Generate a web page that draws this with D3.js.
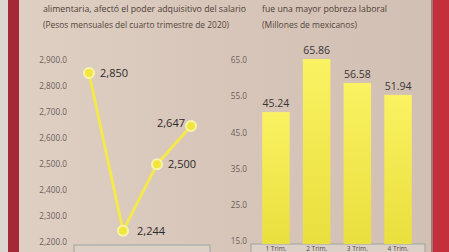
<!DOCTYPE html>
<html>
<head>
<meta charset="utf-8">
<script src="https://cdn.jsdelivr.net/npm/d3@7"></script>
<style>
  body { margin: 0; background: #d6c4b8; }
  svg { display: block; font-family: "Open Sans", sans-serif; }
</style>
</head>
<body>
<script>
// data
var quarters = ["1 Trim.", "2 Trim.", "3 Trim.", "4 Trim."];
var salario = [2850, 2244, 2500, 2647];
var pobreza = [45.24, 65.86, 56.58, 51.94];
var salarioTicks = [2200, 2300, 2400, 2500, 2600, 2700, 2800, 2900];
var pobrezaTicks = [15, 25, 35, 45, 55, 65];
var titleLeft = "alimentaria, afectó el poder adquisitivo del salario";
var subLeft = "(Pesos mensuales del cuarto trimestre de 2020)";
var titleRight = "fue una mayor pobreza laboral";
var subRight = "(Millones de mexicanos)";

var width = 449, height = 252;

var svg = d3.select("body").append("svg")
  .attr("width", width)
  .attr("height", height);

var defs = svg.append("defs");
var bg = defs.append("linearGradient").attr("id", "bg").attr("x1", 0).attr("x2", 1).attr("y1", 0).attr("y2", 0);
bg.append("stop").attr("offset", "0%").attr("stop-color", "#e0d0c4");
bg.append("stop").attr("offset", "45%").attr("stop-color", "#d8c6ba");
bg.append("stop").attr("offset", "100%").attr("stop-color", "#d2bfb3");
var barGrad = defs.append("linearGradient").attr("id", "barg").attr("x1", 0).attr("x2", 0).attr("y1", 0).attr("y2", 1);
barGrad.append("stop").attr("offset", "0%").attr("stop-color", "#faf262");
barGrad.append("stop").attr("offset", "100%").attr("stop-color", "#e9df3e");

// page background, edge strips
svg.append("rect").attr("width", width).attr("height", height).attr("fill", "url(#bg)");
svg.append("rect").attr("x", 0).attr("width", 8).attr("height", height).attr("fill", "#dcd6d1");
svg.append("rect").attr("x", 8).attr("width", 11).attr("height", height).attr("fill", "#a52838");
svg.append("rect").attr("x", 431).attr("width", 2).attr("height", height).attr("fill", "#9c7c72");
svg.append("rect").attr("x", 433).attr("width", 16).attr("height", height).attr("fill", "#c3303b");

// titles (widths squeezed to the printed ones)
function titles(x, t, tw, s, sw) {
  svg.append("text").attr("x", x).attr("y", 11.5)
    .attr("font-size", 9.4).attr("font-weight", 500).attr("fill", "#4e4036")
    .attr("textLength", tw).attr("lengthAdjust", "spacingAndGlyphs")
    .text(t);
  svg.append("text").attr("x", x).attr("y", 28)
    .attr("font-size", 8.8).attr("fill", "#54463c")
    .attr("textLength", sw).attr("lengthAdjust", "spacingAndGlyphs")
    .text(s);
}
titles(43, titleLeft, 203, subLeft, 186);
titles(262, titleRight, 125, subRight, 95);

// ---------- left: line chart ----------
var xL = d3.scalePoint().domain(quarters).range([89, 191]);
var yL = d3.scaleLinear().domain([2200, 2900]).range([242.3, 60]);

var axL = svg.append("g")
  .attr("transform", "translate(67,0)")
  .call(d3.axisLeft(yL).tickValues(salarioTicks).tickFormat(d3.format(",.1f")).tickSize(0).tickPadding(0));
axL.select(".domain").remove();
axL.selectAll("text").attr("font-size", 8.2).attr("fill", "#6a605a").attr("font-family", "Open Sans, sans-serif");

// x axis boxes (cut at bottom)
svg.append("rect").attr("x", 74).attr("y", 245).attr("width", 136).attr("height", 20)
  .attr("fill", "#ddd0c6").attr("stroke", "#9ea3a2").attr("stroke-width", 1);
svg.append("rect").attr("x", 251).attr("y", 244).attr("width", 174).attr("height", 20)
  .attr("fill", "#ddd0c6").attr("stroke", "#9ea3a2").attr("stroke-width", 1);

var line = d3.line()
  .x(function(d, i) { return xL(quarters[i]); })
  .y(function(d) { return yL(d); });

svg.append("path").datum(salario)
  .attr("d", line)
  .attr("fill", "none")
  .attr("stroke", "#f4e94c")
  .attr("stroke-width", 3);

svg.selectAll(".pt").data(salario).enter().append("circle")
  .attr("class", "pt")
  .attr("cx", function(d, i) { return xL(quarters[i]); })
  .attr("cy", function(d) { return yL(d); })
  .attr("r", 5)
  .attr("fill", "#f1e63e")
  .attr("stroke", "#f8f3a8")
  .attr("stroke-width", 2);

svg.selectAll(".ptlab").data(salario).enter().append("text")
  .attr("class", "ptlab")
  .attr("x", function(d, i) { return xL(quarters[i]) + (i == 3 ? -6 : (i == 1 ? 14 : 11)); })
  .attr("y", function(d, i) { return yL(d) + (i == 3 ? 1 : 4); })
  .attr("text-anchor", function(d, i) { return i == 3 ? "end" : "start"; })
  .attr("font-size", 11)
  .attr("fill", "#2e2a28")
  .text(function(d) { return d3.format(",")(d); });

// ---------- right: bar chart ----------
var xR = d3.scaleBand().domain(quarters).range([255.6, 418.4]).paddingInner(0.325).paddingOuter(0.1625);
// axis labels as printed
var yR = d3.scaleLinear().domain([15, 65]).range([241, 60]);
// bar heights as printed (not on the axis above)
var yBar = d3.scaleLinear().domain([-6, 66]).range([244, 58.7]);

var axR = svg.append("g")
  .attr("transform", "translate(247,0)")
  .call(d3.axisLeft(yR).tickValues(pobrezaTicks).tickFormat(d3.format(".1f")).tickSize(0).tickPadding(0));
axR.select(".domain").remove();
axR.selectAll("text").attr("font-size", 8.2).attr("fill", "#6a605a").attr("font-family", "Open Sans, sans-serif");

svg.selectAll(".bar").data(pobreza).enter().append("rect")
  .attr("class", "bar")
  .attr("x", function(d, i) { return xR(quarters[i]); })
  .attr("y", function(d) { return yBar(d); })
  .attr("width", xR.bandwidth())
  .attr("height", function(d) { return yBar(-6) - yBar(d); })
  .attr("fill", "url(#barg)");

svg.selectAll(".barlab").data(pobreza).enter().append("text")
  .attr("class", "barlab")
  .attr("x", function(d, i) { return xR(quarters[i]) + xR.bandwidth() / 2; })
  .attr("y", function(d) { return yBar(d) - 5; })
  .attr("text-anchor", "middle")
  .attr("font-size", 10.5)
  .attr("fill", "#3a3634")
  .text(function(d) { return d3.format(".2f")(d); });

// quarter labels inside the box
svg.selectAll(".qlab").data(quarters).enter().append("text")
  .attr("class", "qlab")
  .attr("x", function(d) { return xR(d) + xR.bandwidth() / 2; })
  .attr("y", 251)
  .attr("text-anchor", "middle")
  .attr("font-size", 6.5)
  .attr("fill", "#4a4a4a")
  .text(function(d) { return d; });
</script>
</body>
</html>
